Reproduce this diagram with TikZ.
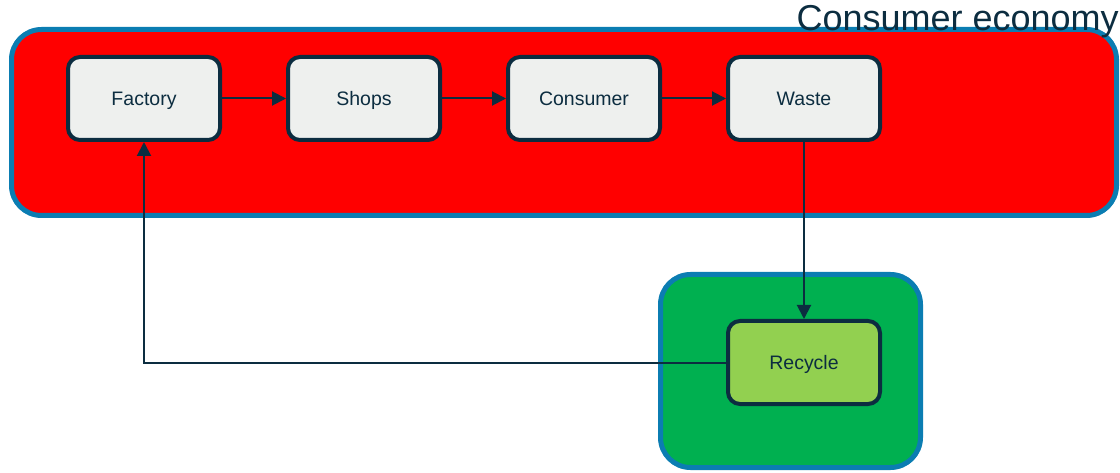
\documentclass[tikz,border=0pt]{standalone}
\usepackage{fontspec}
\setmainfont{Liberation Sans}
\usetikzlibrary{arrows.meta}
\definecolor{navy}{HTML}{0C2D40}
\definecolor{cborder}{HTML}{0B7DB2}
\definecolor{boxfill}{HTML}{EEF0EE}
\definecolor{redfill}{HTML}{FF0000}
\definecolor{greenfill}{HTML}{00B050}
\definecolor{lightgreen}{HTML}{92D050}
\begin{document}
\begin{tikzpicture}[x=1pt,y=-1pt,
  container/.style={draw=cborder, line width=5pt, rounded corners=30pt},
  procbox/.style={draw=navy, line width=4pt, fill=boxfill, rounded corners=12pt,
    minimum width=152pt, minimum height=83pt, inner sep=0pt, text=navy,
    text height=17pt, text depth=2pt,
    font=\fontsize{19.5pt}{22pt}\selectfont},
  conn/.style={draw=navy, line width=2pt, -{Triangle[length=14pt,width=14pt]}}]
\useasboundingbox (0,0) rectangle (1120,473);
% containers
\draw[container, fill=redfill] (11.5,29.5) rectangle (1116.5,215.5);
\draw[container, fill=greenfill] (660.5,274.5) rectangle (920.5,467.5);
\node[anchor=base east, text=navy, inner sep=0pt, font=\fontsize{36pt}{40pt}\selectfont] (title) at (1119,30.5) {Consumer economy};
% nodes
\node[procbox] (fac) at (144,98.5) {Factory};
\node[procbox] (shp) at (364,98.5) {Shops};
\node[procbox] (con) at (584,98.5) {Consumer};
\node[procbox] (was) at (804,98.5) {Waste};
\node[procbox, fill=lightgreen] (rec) at (804,362.5) {Recycle};
% connectors
\draw[conn] (fac.east) -- (shp.west);
\draw[conn] (shp.east) -- (con.west);
\draw[conn] (con.east) -- (was.west);
\draw[conn] (was.south) -- (rec.north);
\draw[conn] (rec.west) -| (fac.south);
\end{tikzpicture}
\end{document}
